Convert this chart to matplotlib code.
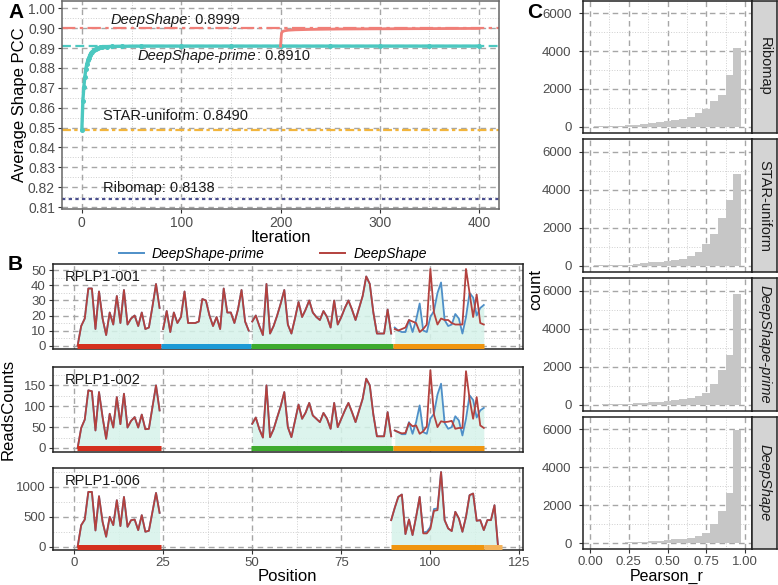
import matplotlib
matplotlib.use("Agg")
import matplotlib.pyplot as plt
from matplotlib.lines import Line2D
from matplotlib.ticker import MultipleLocator

plt.rcParams['font.family'] = ['Liberation Sans', 'DejaVu Sans']

# ---------------- data: panel A ----------------
prime_iter = [0, 1, 2, 3, 4, 5, 6, 7, 8, 9, 10, 12, 14, 16, 18, 20, 25, 30, 40, 60,
              100, 150, 200, 250, 300, 350, 400]
prime_pcc = [0.8490, 0.8633, 0.8705, 0.8755, 0.8795, 0.8820, 0.8838, 0.8852, 0.8864, 0.8873,
             0.8880, 0.8890, 0.8896, 0.8900, 0.8903, 0.8905, 0.8907, 0.8908, 0.8909, 0.8910,
             0.8910, 0.8910, 0.8910, 0.8910, 0.8910, 0.8910, 0.8910]
deep_iter = [200, 201, 202, 204, 208, 215, 230, 260, 300, 350, 400]
deep_pcc = [0.8910, 0.8975, 0.8983, 0.8987, 0.8990, 0.8992, 0.8994, 0.8996, 0.8997, 0.8998, 0.8999]
ref_names = ["DeepShape", "DeepShape-prime", "STAR-uniform", "Ribomap"]
ref_values = [0.8999, 0.8910, 0.8490, 0.8138]
a_yticks = [0.81, 0.82, 0.83, 0.84, 0.85, 0.86, 0.87, 0.88, 0.89, 0.90, 0.91]
a_ytick_labels = ["0.81", "0.82", "0.83", "0.84", "0.85", "0.86", "0.87", "0.88", "0.89", "0.90", "1.00"]

# ---------------- data: panel B ----------------
# RPLP1-001
b1_red = [0, 13, 18, 38, 38, 11, 36, 18, 7, 22, 14, 33, 15, 37, 14, 18, 20, 13, 22, 11, 12, 26, 41, 25]
b1_blue = [11, 23, 9, 22, 15, 19, 36, 15, 15, 15, 16, 31, 30, 20, 13, 19, 11, 38, 22, 22, 15, 24, 37, 16, 10]
b1_green = [16, 20, 13, 7, 41, 8, 13, 20, 28, 37, 14, 8, 18, 29, 19, 24, 30, 22, 19, 17,
            23, 19, 12, 30, 14, 19, 25, 30, 24, 17, 25, 33, 46, 41, 22, 8, 8, 8, 24, 8]
b1_orange_prime = [12, 10, 9, 9, 17, 9, 17, 28, 10, 9, 19, 23, 35, 42, 17, 13, 14, 21, 18, 8, 19, 35, 32, 20, 25, 27]
b1_orange_deep = [11, 10, 11, 12, 17, 16, 15, 9, 11, 14, 51, 22, 14, 18, 17, 17, 15, 14, 14, 14, 51, 35, 19, 34, 15, 14]
# RPLP1-002
b2_red = [0, 48, 68, 138, 136, 42, 134, 74, 22, 82, 49, 122, 57, 130, 49, 65, 74, 49, 80, 45, 46, 98, 150, 90]
b2_green = [58, 73, 45, 25, 150, 26, 45, 73, 100, 134, 50, 26, 65, 104, 70, 85, 108, 78, 70, 62,
            84, 70, 46, 108, 50, 70, 90, 108, 86, 62, 90, 118, 166, 150, 80, 28, 28, 28, 86, 28]
b2_orange_prime = [42, 38, 33, 33, 62, 34, 62, 102, 38, 34, 70, 82, 128, 154, 60, 46, 50, 76, 66, 30, 70, 126, 115, 73, 90, 96]
b2_orange_deep = [42, 38, 35, 36, 60, 52, 54, 34, 40, 52, 186, 80, 50, 64, 62, 63, 65, 46, 48, 48, 184, 118, 70, 122, 54, 48]
# RPLP1-006
b3_red = [0, 360, 455, 917, 917, 272, 845, 417, 167, 500, 361, 778, 345, 833, 333, 444, 455, 278, 528, 250, 267, 584, 900, 567]
b3_orange_prime = [445, 650, 834, 873, 211, 456, 195, 500, 834, 240, 250, 330, 630, 640, 1250, 445, 306, 262, 584, 473,
                   250, 500, 862, 890, 434, 445, 278, 445, 445, 695, 0]
b3_orange_deep = [445, 650, 834, 873, 211, 456, 195, 500, 834, 223, 223, 300, 600, 612, 1250, 445, 306, 262, 584, 473,
                  250, 500, 862, 890, 434, 445, 278, 445, 445, 695, 0]

transcripts = ["RPLP1-001", "RPLP1-002", "RPLP1-006"]
# (start position, DeepShape-prime values, DeepShape values)
segments = [
    [(1, b1_red, b1_red), (25, b1_blue, b1_blue), (50, b1_green, b1_green), (90, b1_orange_prime, b1_orange_deep)],
    [(1, b2_red, b2_red), (50, b2_green, b2_green), (90, b2_orange_prime, b2_orange_deep)],
    [(1, b3_red, b3_red), (89, b3_orange_prime, b3_orange_deep)],
]
region_bars = [
    [(0.75, 24.5, "#D4301F"), (24.5, 49.6, "#1C9AD6"), (49.6, 89.5, "#3DAA2E"), (89.5, 115, "#F0950F")],
    [(0.75, 24.5, "#D4301F"), (49.6, 89.5, "#3DAA2E"), (89.5, 115, "#F0950F")],
    [(0.75, 24.5, "#D4301F"), (89, 115, "#F0950F"), (115, 120, "#F4B35A")],
]
b_yticks = [[0, 10, 20, 30, 40, 50], [0, 50, 100, 150], [0, 500, 1000]]
b_ylims = [(-2.3, 54.3), (-9.6, 194), (-55, 1317)]

# ---------------- data: panel C ----------------
c_methods = ["Ribomap", "STAR-uniform", "DeepShape-prime", "DeepShape"]
c_bins = [0.00, 0.05, 0.10, 0.15, 0.20, 0.25, 0.30, 0.35, 0.40, 0.45,
          0.50, 0.55, 0.60, 0.65, 0.70, 0.75, 0.80, 0.85, 0.90, 0.95]
c_counts = [
    [8, 15, 25, 35, 50, 71, 106, 142, 195, 248, 300, 354, 425, 500, 700, 930, 1350, 1700, 2750, 4150],
    [5, 10, 15, 25, 40, 60, 90, 130, 170, 210, 260, 310, 370, 510, 740, 1120, 1680, 2500, 3450, 4850],
    [4, 8, 12, 20, 30, 45, 65, 90, 115, 145, 175, 227, 280, 350, 455, 640, 1080, 1800, 2600, 5850],
    [4, 8, 12, 18, 28, 42, 60, 85, 110, 140, 175, 210, 245, 300, 390, 560, 1000, 1700, 2630, 5970],
]

# ---------------- figure ----------------
W, H = 778, 585
fig = plt.figure(figsize=(W / 100, H / 100), dpi=100)


def px_axes(l, t, r, b):
    return fig.add_axes([l / W, 1 - b / H, (r - l) / W, (b - t) / H])


TICK_COL = "#4D4D4D"


def style_grid(ax, spine_col="#333333"):
    ax.set_axisbelow(True)
    ax.grid(which="major", color="#A6A6A6", linestyle=(0, (4, 3)), linewidth=1.0)
    ax.grid(which="minor", color="#CFCFCF", linestyle=":", linewidth=0.7)
    for s in ax.spines.values():
        s.set_color(spine_col)
        s.set_linewidth(1.1)
    ax.tick_params(which="major", length=3, color="#333333", labelsize=9, labelcolor=TICK_COL, pad=2)
    ax.tick_params(which="minor", length=0)


# ---------------- panel A ----------------
axA = px_axes(62, 1, 499, 209)
axA.set_xlim(-20, 420)
axA.set_ylim(0.8090, 0.9137)
axA.set_yticks(a_yticks)
axA.set_yticklabels(a_ytick_labels)
axA.set_xticks([0, 100, 200, 300, 400])
axA.xaxis.set_minor_locator(MultipleLocator(50))
axA.yaxis.set_minor_locator(MultipleLocator(0.005))
style_grid(axA, "#666666")
axA.tick_params(axis="y", labelsize=10)
axA.tick_params(axis="x", labelsize=10)

ref_colors = ["#F07F78", "#4CC8C0", "#F2B53C", "#4B4F8E"]
ref_styles = [(0, (6, 2, 1.5, 2)), (0, (4, 2)), (0, (4, 1.5, 1.5, 1.5)), (0, (1.5, 1.5))]
for v, c, ls in zip(ref_values, ref_colors, ref_styles):
    axA.axhline(v, color=c, linestyle=ls, linewidth=1.6, zorder=2)

axA.plot(prime_iter, prime_pcc, color="#4CC8C0", linewidth=2.4, marker="o", markersize=2.6, zorder=3)
axA.plot(deep_iter, deep_pcc, color="#F07F78", linewidth=2.0, zorder=3)


def ref_label(x, y, italic, rest):
    if italic:
        t1 = axA.text(x, y, italic, style="italic", fontsize=10.5, va="bottom", ha="left", color="#1A1A1A")
        axA.annotate(rest, xy=(1, 0), xycoords=t1, va="bottom", ha="left", fontsize=10.5, color="#1A1A1A")
    else:
        axA.text(x, y, rest, fontsize=10.5, va="bottom", ha="left", color="#1A1A1A")


ref_label(28.5, 0.9007, "DeepShape", ": 0.8999")
ref_label(56.5, 0.8823, "DeepShape-prime", ": 0.8910")
ref_label(21.5, 0.8522, None, "STAR-uniform: 0.8490")
ref_label(21.5, 0.8162, None, "Ribomap: 0.8138")

axA.set_ylabel("Average Shape PCC", fontsize=12, labelpad=1)
axA.set_xlabel("Iteration", fontsize=12, labelpad=0)

# ---------------- panel B ----------------
b_boxes = [(264, 349), (367, 452), (468, 550)]
for i, (t, b) in enumerate(b_boxes):
    ax = px_axes(52.7, t, 523, b)
    ax.set_xlim(-6, 126)
    ax.set_ylim(*b_ylims[i])
    ax.set_xticks([0, 25, 50, 75, 100, 125])
    ax.xaxis.set_minor_locator(MultipleLocator(12.5))
    ax.set_yticks(b_yticks[i])
    step = b_yticks[i][1] - b_yticks[i][0]
    ax.yaxis.set_minor_locator(MultipleLocator(step / 2))
    style_grid(ax, "#222222")
    ax.tick_params(labelsize=9.5)
    if i < 2:
        ax.tick_params(axis="x", labelbottom=False, length=0)
    for start, prime, deep in segments[i]:
        pos = list(range(start, start + len(prime)))
        ax.fill_between(pos, 0, prime, color="#D6F3EA", alpha=0.85, linewidth=0, zorder=1.5)
        ax.plot(pos, prime, color="#4E8FC8", linewidth=1.3, zorder=3)
        ax.plot(pos, deep, color="#B3413E", linewidth=1.3, zorder=4)
    for s, e, c in region_bars[i]:
        ax.plot([s, e], [0, 0], color=c, linewidth=3.6, solid_capstyle="butt", zorder=5)
    ax.text(0.025, 0.93, transcripts[i], transform=ax.transAxes, fontsize=10.5, va="top", ha="left",
            color="#1A1A1A")
    if i == 2:
        ax.set_xlabel("Position", fontsize=12, labelpad=0)
    if i == 1:
        ax.set_ylabel("ReadsCounts", fontsize=12, labelpad=6)

handles = [Line2D([], [], color="#4E8FC8", linewidth=1.4), Line2D([], [], color="#B3413E", linewidth=1.4)]
fig.legend(handles, ["DeepShape-prime", "DeepShape"], loc="center", bbox_to_anchor=(273 / W, 1 - 254 / H),
           ncol=2, frameon=False, prop={"style": "italic", "size": 10}, handlelength=1.8, columnspacing=4.0,
           handletextpad=0.6)

# ---------------- panel C ----------------
c_boxes = [(1, 132.7), (139.3, 271.7), (278.3, 410.7), (416.7, 549.3)]
for i, (t, b) in enumerate(c_boxes):
    ax = px_axes(582.7, t, 751.7, b)
    ax.bar(c_bins, c_counts[i], width=0.05, color="#C6C6C6", linewidth=0, zorder=2)
    ax.set_xlim(-0.047, 1.043)
    ax.set_ylim(-317, 6650)
    ax.set_xticks([0.0, 0.25, 0.5, 0.75, 1.0])
    ax.set_xticklabels(["0.00", "0.25", "0.50", "0.75", "1.00"])
    ax.xaxis.set_minor_locator(MultipleLocator(0.125))
    ax.set_yticks([0, 2000, 4000, 6000])
    ax.yaxis.set_minor_locator(MultipleLocator(1000))
    style_grid(ax, "#222222")
    ax.tick_params(labelsize=9.5)
    ax.tick_params(axis="y", pad=5)
    if i < 3:
        ax.tick_params(axis="x", labelbottom=False, length=0)
    else:
        ax.tick_params(axis="x", pad=2)
    sx = px_axes(752, t, 777, b)
    sx.set_facecolor("#D4D4D4")
    sx.set_xticks([])
    sx.set_yticks([])
    for s in sx.spines.values():
        s.set_color("#222222")
        s.set_linewidth(1.1)
    style = "italic" if c_methods[i].startswith("DeepShape") else "normal"
    sx.text(0.5, 0.5, c_methods[i], rotation=270, ha="center", va="center", fontsize=10.5,
            style=style, color="#1A1A1A", transform=sx.transAxes)

fig.text(536 / W, 1 - 290 / H, "count", rotation=90, ha="center", va="center", fontsize=12)
fig.text(667 / W, 1 - 576 / H, "Pearson_r", ha="center", va="center", fontsize=11.5)

# panel letters
fig.text(8 / W, 1 - 13 / H, "A", fontsize=15, fontweight="bold", ha="left", va="center")
fig.text(8 / W, 1 - 265 / H, "B", fontsize=15, fontweight="bold", ha="left", va="center")
fig.text(527 / W, 1 - 13 / H, "C", fontsize=15, fontweight="bold", ha="left", va="center")

fig.savefig("out.png", dpi=100)
